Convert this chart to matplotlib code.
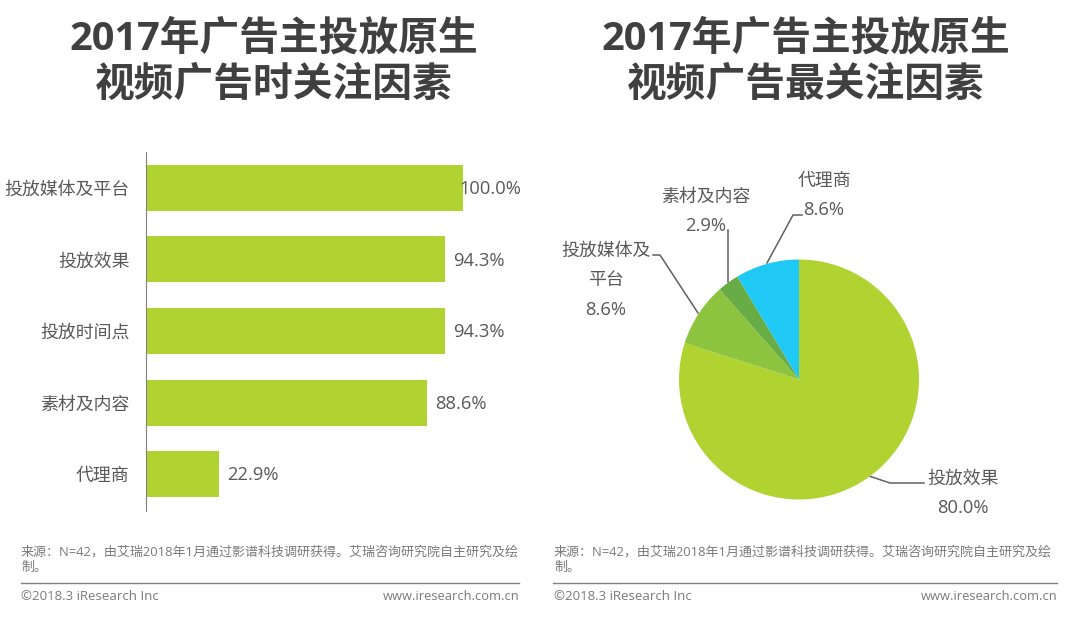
import matplotlib
matplotlib.use('Agg')
import matplotlib.pyplot as plt

plt.rcParams['font.family'] = ['Open Sans', 'Noto Sans CJK SC', 'DejaVu Sans']

# 左圖資料
bar_labels = ['投放媒体及平台', '投放效果', '投放时间点', '素材及内容', '代理商']
bar_values = [100.0, 94.3, 94.3, 88.6, 22.9]

# 右圖資料
pie_labels = ['投放效果', '投放媒体及\n平台', '素材及内容', '代理商']
pie_values = [80.0, 8.6, 2.9, 8.6]
pie_colors = ['#b0d332', '#8cc43f', '#67ac44', '#1fc8f5']

titles = ['2017年广告主投放原生\n视频广告时关注因素', '2017年广告主投放原生\n视频广告最关注因素']
source = '来源：N=42，由艾瑞2018年1月通过影谱科技调研获得。艾瑞咨询研究院自主研究及绘\n制。'
copyright_text = '©2018.3 iResearch Inc'
site = 'www.iresearch.com.cn'

W, H = 1080, 626
text_color = '#404040'
label_color = '#595959'
foot_color = '#7a7a7a'
line_color = '#606060'

fig = plt.figure(figsize=(W / 100, H / 100), dpi=100)
bg = fig.add_axes([0, 0, 1, 1])
bg.set_xlim(0, W)
bg.set_ylim(H, 0)
bg.axis('off')

# 標題
bg.text(273.5, 62.5, titles[0], fontsize=28.6, fontweight='bold', color=text_color,
        ha='center', va='center', linespacing=1.23)
bg.text(806, 62.5, titles[1], fontsize=28.6, fontweight='bold', color=text_color,
        ha='center', va='center', linespacing=1.23)

# 長條圖
ax = fig.add_axes([146 / W, 1 - 511 / H, 330 / W, 359 / H])
ypos = list(range(len(bar_values)))
ax.barh(ypos, bar_values, height=0.643, color='#b0d332')
ax.set_ylim(4.517, -0.503)
ax.set_xlim(0, 104.1)
ax.set_yticks(ypos)
ax.set_yticklabels(bar_labels, fontsize=12.9, color=label_color)
ax.tick_params(left=False, pad=8.4)
ax.xaxis.set_visible(False)
for s in ['top', 'right', 'bottom']:
    ax.spines[s].set_visible(False)
ax.spines['left'].set_color('#808080')
ax.spines['left'].set_linewidth(0.8)
for y, v in zip(ypos, bar_values):
    # 100% 的標籤壓在長條上
    offset = -1 if v == 100.0 else 2.6
    ax.text(v + offset, y + 0.02, f'{v:.1f}%', fontsize=13.2, color=label_color,
            va='center', ha='left', clip_on=False)

# 圓餅圖
pie_ax = fig.add_axes([679 / W, 1 - 499.5 / H, 240 / W, 240 / H])
pie_ax.pie(pie_values, colors=pie_colors, startangle=90, counterclock=False, radius=1)
pie_ax.set_xlim(-1, 1)
pie_ax.set_ylim(-1, 1)

# 圓餅圖標籤
bg.plot([869, 890, 924], [476, 483, 483], color=line_color, lw=1.1)
bg.text(963, 478.5, pie_labels[0], fontsize=12.9, color=label_color, ha='center', va='center')
bg.text(963, 508, f'{pie_values[0]:.1f}%', fontsize=13.2, color=label_color, ha='center', va='center')
bg.plot([698, 660, 653], [313, 255, 255], color=line_color, lw=1.1)
bg.text(606, 265.5, pie_labels[1], fontsize=12.9, color=label_color, ha='center', va='center', linespacing=1.84)
bg.text(606, 310, f'{pie_values[1]:.1f}%', fontsize=13.2, color=label_color, ha='center', va='center')
bg.plot([728, 728], [282, 230], color=line_color, lw=1.1)
bg.text(706, 196.5, pie_labels[2], fontsize=12.9, color=label_color, ha='center', va='center')
bg.text(706, 226, f'{pie_values[2]:.1f}%', fontsize=13.2, color=label_color, ha='center', va='center')
bg.plot([767, 793, 802], [263, 215, 215], color=line_color, lw=1.1)
bg.text(824, 180.5, pie_labels[3], fontsize=12.9, color=label_color, ha='center', va='center')
bg.text(824, 210, f'{pie_values[3]:.1f}%', fontsize=13.2, color=label_color, ha='center', va='center')

# 頁尾
for x0, x1, xs in [(21, 519, 21), (553, 1057, 554)]:
    bg.text(xs, 559.5, source, fontsize=9.4, color=foot_color, ha='left', va='center', linespacing=1.2)
    bg.plot([x0, x1], [582.5, 582.5], color='#808080', lw=1)
    bg.text(xs, 597, copyright_text, fontsize=9.5, color=foot_color, ha='left', va='center')
    bg.text(x1, 597, site, fontsize=9.3, color=foot_color, ha='right', va='center')

fig.savefig('out.png', dpi=100)
